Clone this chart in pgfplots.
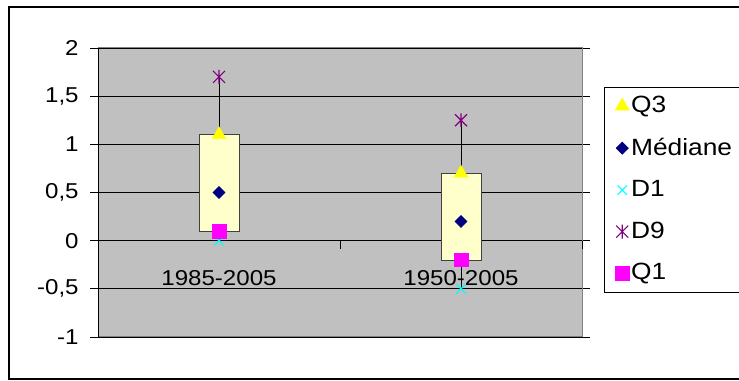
\documentclass[border=0pt]{standalone}
\usepackage{pgfplots}
\pgfplotsset{compat=1.18}
\usepackage{fontspec}
\setmainfont{Liberation Sans}[FakeStretch=1.12]
\definecolor{bggray}{HTML}{C0C0C0}
\definecolor{boxfill}{HTML}{FFFFCC}
\definecolor{cnavy}{HTML}{000080}
\definecolor{cpurple}{HTML}{800080}
\definecolor{cmag}{HTML}{FF00FF}
\definecolor{ccyan}{HTML}{00FFFF}
\definecolor{cyel}{HTML}{FFFF00}
\pgfdeclareplotmark{xstar}{%
  \pgfpathmoveto{\pgfqpoint{-\pgfplotmarksize}{-\pgfplotmarksize}}%
  \pgfpathlineto{\pgfqpoint{\pgfplotmarksize}{\pgfplotmarksize}}%
  \pgfpathmoveto{\pgfqpoint{-\pgfplotmarksize}{\pgfplotmarksize}}%
  \pgfpathlineto{\pgfqpoint{\pgfplotmarksize}{-\pgfplotmarksize}}%
  \pgfpathmoveto{\pgfqpoint{0pt}{-1.15\pgfplotmarksize}}%
  \pgfpathlineto{\pgfqpoint{0pt}{1.15\pgfplotmarksize}}%
  \pgfusepathqstroke}
\begin{document}
\fontsize{21.5bp}{25bp}\selectfont
\begin{tikzpicture}
\useasboundingbox (0,0) rectangle (739bp,381bp);
\draw[line width=1.8bp] (9bp,2bp) rectangle (760bp,374bp);
\begin{axis}[
  at={(98bp,44bp)}, anchor=south west,
  width=484bp, height=289bp, scale only axis,
  xmin=-0.5, xmax=1.5, ymin=-1, ymax=2,
  xtick=\empty,
  ytick={-1,-0.5,0,0.5,1,1.5,2},
  /pgf/number format/use comma,
  /pgf/number format/assume math mode=true,
  yticklabel style={font=\fontsize{21.5bp}{25bp}\selectfont, xshift=-4bp},
  tick align=outside, major tick length=8bp,
  tick style={black, line width=0.8bp},
  ymajorgrids, grid style={black, line width=0.8bp},
  axis line style={draw=gray, line width=1bp},
  axis background/.style={fill=bggray},
  clip=false,
  legend style={at={(1.0455,0.865)}, anchor=north west, draw=black, line width=0.6bp,
    font=\fontsize{23.5bp}{26bp}\selectfont, row sep=18bp, inner ysep=7bp, inner xsep=11bp},
  legend cell align=left,
]
% boxes (Q1 to Q3)
\addplot[draw=black!75, line width=0.8bp, fill=boxfill, forget plot] coordinates {(-0.0826,0.1) (0.0826,0.1) (0.0826,1.1) (-0.0826,1.1)} -- cycle;
\addplot[draw=black!75, line width=0.8bp, fill=boxfill, forget plot] coordinates {(0.9174,-0.2) (1.0826,-0.2) (1.0826,0.7) (0.9174,0.7)} -- cycle;
% whiskers
\addplot[black, line width=0.8bp, forget plot] coordinates {(0,1.1) (0,1.7)};
\addplot[black, line width=0.8bp, forget plot] coordinates {(1,0.7) (1,1.25)};
\addplot[black, line width=0.8bp, forget plot] coordinates {(0,0.1) (0,0)};
\addplot[black, line width=0.8bp, forget plot] coordinates {(1,-0.2) (1,-0.5)};
% markers
\addplot[only marks, mark=triangle*, mark size=8bp, mark options={fill=cyel, draw=cyel}] coordinates {(0,1.1) (1,0.7)};
\addlegendentry{Q3}
\addplot[only marks, mark=square*, mark size=4.3bp, mark options={rotate=45, fill=cnavy, draw=cnavy}] coordinates {(0,0.5) (1,0.2)};
\addlegendentry{\makebox[130bp][l]{Médiane}}
\addplot[only marks, mark=x, mark size=6.5bp, mark options={draw=ccyan, line width=1.2bp}] coordinates {(0,0) (1,-0.5)};
\addlegendentry{D1}
\addplot[only marks, mark=xstar, mark size=6bp, mark options={draw=cpurple, line width=1.2bp}] coordinates {(0,1.7) (1,1.25)};
\addlegendentry{D9}
\addplot[only marks, mark=square*, mark size=6.7bp, mark options={fill=cmag, draw=cmag}] coordinates {(0,0.1) (1,-0.2)};
\addlegendentry{Q1}
% left axis line, x axis at 0 with tick marks
\draw[black, line width=1bp] (axis cs:-0.5,-1) -- (axis cs:-0.5,2);
\draw[black, line width=0.8bp] (axis cs:-0.5,0) -- ([yshift=-8bp]axis cs:-0.5,0);
\draw[black, line width=0.8bp] (axis cs:0.5,0) -- ([yshift=-8bp]axis cs:0.5,0);
\draw[black, line width=0.8bp] (axis cs:1.5,0) -- ([yshift=-8bp]axis cs:1.5,0);
\node[anchor=base, inner sep=0pt] at ([yshift=-45bp]axis cs:0,0) {1985-2005};
\node[anchor=base, inner sep=0pt] at ([yshift=-45bp]axis cs:1,0) {1950-2005};
\end{axis}
\end{tikzpicture}
\end{document}
